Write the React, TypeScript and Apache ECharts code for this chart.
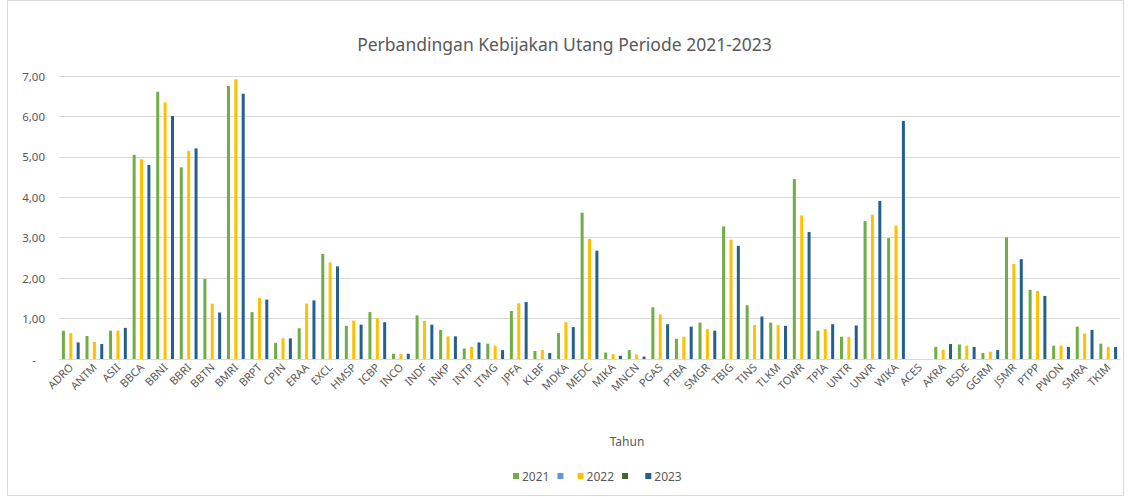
import React, { useEffect, useRef } from "react";
import * as echarts from "echarts";

const categories = [
  "ADRO", "ANTM", "ASII", "BBCA", "BBNI", "BBRI", "BBTN", "BMRI", "BRPT", "CPIN",
  "ERAA", "EXCL", "HMSP", "ICBP", "INCO", "INDF", "INKP", "INTP", "ITMG", "JPFA",
  "KLBF", "MDKA", "MEDC", "MIKA", "MNCN", "PGAS", "PTBA", "SMGR", "TBIG", "TINS",
  "TLKM", "TOWR", "TPIA", "UNTR", "UNVR", "WIKA", "ACES", "AKRA", "BSDE", "GGRM",
  "JSMR", "PTPP", "PWON", "SMRA", "TKIM",
];

const values2021 = [
  0.70, 0.57, 0.70, 5.05, 6.61, 4.74, 1.98, 6.75, 1.16, 0.40,
  0.76, 2.60, 0.82, 1.16, 0.13, 1.08, 0.72, 0.26, 0.38, 1.19,
  0.20, 0.64, 3.62, 0.16, 0.22, 1.28, 0.50, 0.90, 3.28, 1.33,
  0.90, 4.45, 0.70, 0.55, 3.41, 2.99, 0, 0.30, 0.36, 0.15,
  3.01, 1.71, 0.33, 0.80, 0.38,
];

const values2022 = [
  0.64, 0.42, 0.70, 4.94, 6.35, 5.15, 1.37, 6.92, 1.51, 0.51,
  1.37, 2.39, 0.95, 1.01, 0.12, 0.94, 0.56, 0.30, 0.33, 1.38,
  0.22, 0.91, 2.97, 0.12, 0.11, 1.10, 0.55, 0.74, 2.95, 0.84,
  0.84, 3.55, 0.74, 0.54, 3.57, 3.30, 0, 0.23, 0.33, 0.18,
  2.35, 1.68, 0.33, 0.63, 0.30,
];

const values2023 = [
  0.41, 0.37, 0.77, 4.80, 6.01, 5.21, 1.15, 6.56, 1.47, 0.51,
  1.45, 2.29, 0.85, 0.91, 0.13, 0.85, 0.56, 0.41, 0.22, 1.41,
  0.15, 0.79, 2.68, 0.08, 0.06, 0.86, 0.80, 0.70, 2.80, 1.05,
  0.82, 3.14, 0.86, 0.83, 3.91, 5.89, 0, 0.37, 0.30, 0.22,
  2.47, 1.56, 0.30, 0.72, 0.30,
];

const emptyValues = categories.map(() => 0);

const seriesNames = ["2021", " ", "2022", "  ", "2023"];
const seriesColors = ["#70AD47", "#5B9BD5", "#FFC000", "#43682B", "#255E91"];
const seriesData = [values2021, emptyValues, values2022, emptyValues, values2023];

const FONT = "'Noto Sans', 'Open Sans', sans-serif";
const TEXT = "#595959";

export default function App() {
  const ref = useRef<HTMLDivElement>(null);

  useEffect(() => {
    if (!ref.current) return;
    const chart = echarts.init(ref.current, undefined, { renderer: "svg" });
    chart.setOption({
      animation: false,
      backgroundColor: "#ffffff",
      textStyle: { fontFamily: FONT },
      title: {
        text: "Perbandingan Kebijakan Utang Periode 2021-2023",
        left: "center",
        top: 30,
        textStyle: { fontFamily: FONT, fontSize: 17.5, fontWeight: "normal", color: TEXT },
      },
      legend: {
        data: seriesNames,
        left: 508,
        top: 465,
        icon: "rect",
        itemWidth: 6,
        itemHeight: 6,
        itemGap: 8,
        textStyle: { fontFamily: FONT, fontSize: 12, color: TEXT, padding: [0, 0, 0, -2] },
      },
      grid: { left: 59, right: 9, top: 76, bottom: 138, containLabel: false },
      xAxis: {
        type: "category",
        data: categories,
        axisLine: { show: true, lineStyle: { color: "#D9D9D9" } },
        axisTick: { show: false },
        axisLabel: {
          rotate: 45,
          interval: 0,
          fontSize: 11,
          color: TEXT,
          fontFamily: FONT,
          margin: 6,
        },
      },
      yAxis: {
        type: "value",
        min: 0,
        max: 7,
        interval: 1,
        axisLine: { show: false },
        axisTick: { show: false },
        splitLine: { lineStyle: { color: "#D9D9D9", width: 1 } },
        axisLabel: {
          color: TEXT,
          fontSize: 11.5,
          fontFamily: FONT,
          margin: 14,
          formatter: (v: number) => (v === 0 ? "{z|-}" : v.toFixed(2).replace(".", ",")),
          rich: { z: { color: TEXT, fontSize: 11.5, padding: [0, 9, 0, 0] } },
        },
      },
      graphic: [
        {
          type: "rect",
          shape: { x: 7.5, y: 0.5, width: 1116, height: 495 },
          style: { fill: "none", stroke: "#D9D9D9", lineWidth: 1 },
          silent: true,
          z: -1,
        },
        {
          type: "text",
          x: 627,
          y: 441,
          style: {
            text: "Tahun",
            fill: TEXT,
            fontSize: 12,
            fontFamily: FONT,
            align: "center",
            verticalAlign: "middle",
          },
        },
      ],
      series: seriesNames.map((name, i) => ({
        name,
        type: "bar",
        data: seriesData[i],
        barWidth: 3,
        barGap: "23%",
        itemStyle: { color: seriesColors[i] },
      })),
    });
    return () => chart.dispose();
  }, []);

  return (
    <div
      ref={ref}
      style={{ position: "fixed", left: 0, top: 0, width: 1129, height: 497 }}
    />
  );
}
